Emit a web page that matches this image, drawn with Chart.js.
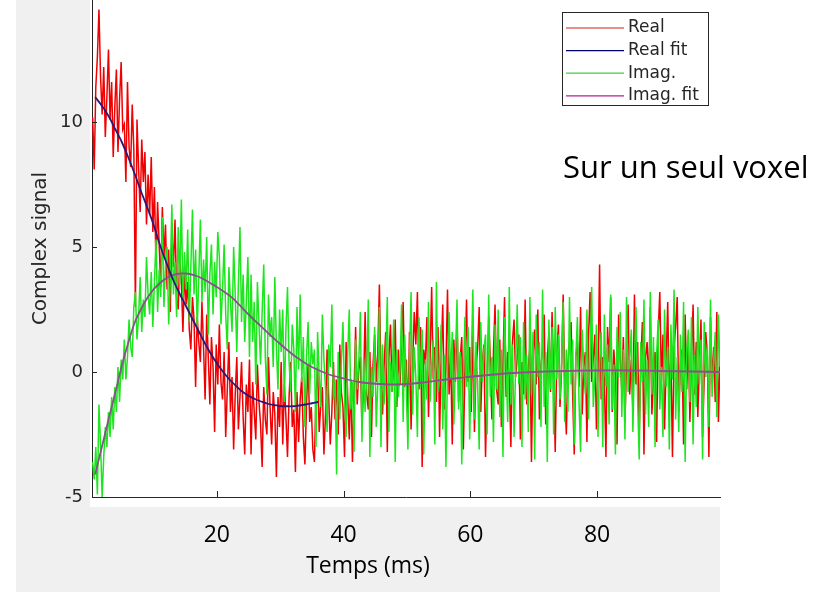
<!DOCTYPE html>
<html>
<head>
<meta charset="utf-8">
<script src="https://cdn.jsdelivr.net/npm/chart.js@4.4.1/dist/chart.umd.min.js"></script>
<style>
  html, body { margin: 0; padding: 0; background: #ffffff; }
  #wrap { width: 834px; height: 592px; position: relative; }
</style>
</head>
<body>
<div id="wrap"><canvas id="signalChart"></canvas></div>
<script>
//
// Sampling grid of the measured signal (ms)
//
var sampleStart = 0.4;
var sampleStep = 0.25;

// Real part, one value per sample (20 per line = 5 ms)
var realSignal = [
    10.2, 8.1, 11.4, 12.6, 14.5, 11.8, 10.3, 12.2, 9.4, 11.0, 12.9, 10.1, 11.6, 8.6, 10.6, 12.1, 8.8, 10.9, 12.4, 9.7,
    9.9, 7.6, 11.6, 9.0, 8.2, 10.7, 8.9, 2.6, 10.1, 8.2, 6.4, 9.3, 7.6, 8.8, 5.9, 7.9, 6.3, 8.6, 5.6, 7.4,
    4.3, 6.8, 5.1, 3.4, 6.6, 4.6, 5.9, 3.3, 4.9, 2.4, 5.6, 4.2, 6.1, 3.0, 2.5, 4.6, 3.6, 1.6, 4.1, 2.7,
    3.6, 1.7, 0.9, 3.0, 2.1, -0.6, 2.2, 1.2, 0.4, 2.8, 1.0, -1.1, 2.3, 0.6, -1.3, 1.4, 0.2, -2.4, 1.1, -0.5,
    1.9, -0.4, -1.1, 0.8, -2.6, -0.7, 1.2, -1.6, -0.2, -3.1, -0.9, 0.6, -2.3, -1.0, 0.4, -1.8, -3.3, -0.5, -1.6, 0.5,
    -3.3, -0.4, -1.6, -2.7, 0.3, -1.2, -2.1, -3.8, -0.6, -1.9, -2.5, 0.6, -1.4, -2.9, -0.8, -1.7, -4.2, -1.0, -2.2, 0.4,
    -2.9, -0.5, -1.8, -3.4, -1.0, 0.4, -2.2, -1.5, -4.0, -0.8, -2.8, -1.1, -0.2, -2.6, -3.7, -1.3, 0.3, -2.0, -1.4, -3.1,
    -3.6, -0.9, 0.2, -2.4, -1.3, -0.6, -3.3, -1.7, 0.9, -1.0, -2.9, -1.6, 0.4, -1.9, -0.3, -2.5, 1.1, -0.8, -1.4, -3.4,
    1.2, -1.0, -2.7, -0.3, -3.6, -0.9, 1.8, -1.3, 0.1, 0.6, -2.2, -0.6, 2.4, -0.9, -1.5, 0.8, -2.6, 0.3, 1.5, -0.4,
    0.8, 3.5, -0.2, -1.7, 0.3, 1.6, -3.2, 0.6, 1.9, -0.8, 0.2, 2.1, -1.4, 0.9, -0.5, 1.2, 2.8, -0.6, 0.5, -2.1,
    1.6, -2.3, 0.4, 2.4, 1.1, 3.2, -0.7, 1.8, -3.8, 0.9, 0.3, 2.2, -1.8, 0.6, 3.4, -0.3, 1.0, -1.2, 1.8, -2.6,
    0.6, 2.7, -1.5, 0.2, 3.3, -0.9, 0.7, -2.9, 1.3, -0.4, 2.2, -1.2, 0.5, 1.4, -3.1, 0.1, 2.9, -0.4, 1.0, -1.6,
    1.9, -2.4, 0.2, 0.9, 2.6, -1.6, 0.4, 1.1, -3.4, -0.5, 2.2, 0.5, -1.9, 0.8, 2.7, -0.7, -1.3, 1.3, -2.2, 0.3,
    3.0, -1.0, 0.8, -0.3, -3.0, 1.2, 2.1, -0.2, 0.6, 1.5, -2.7, 0.4, -0.9, 2.9, -1.3, 0.2, 1.0, -3.6, 0.7, 1.7,
    -0.5, 2.5, -1.9, 0.3, 0.9, 2.3, -2.1, 0.5, 1.6, -0.8, 2.4, -0.2, -3.2, 0.7, 1.9, -1.4, 0.1, 3.1, -0.6, -2.5,
    0.3, 1.2, 2.0, -0.9, -3.3, 0.6, 1.2, -0.6, 2.6, -1.7, 0.2, 0.8, -2.8, 1.4, 3.2, -0.4, 0.5, 1.5, -2.3, 0.1,
    4.3, -1.1, 0.6, -0.3, -3.4, 1.8, 0.4, 3.0, -1.6, 0.9, -0.2, -2.9, 2.3, 0.6, -0.7, 1.4, -2.0, 0.3, 2.7, -0.9,
    0.5, -1.5, 3.1, -0.5, 1.2, -2.5, 0.3, 2.0, -3.3, 0.6, 1.2, -0.6, 2.6, -1.7, -0.2, 0.8, -2.8, 1.6, 3.2, -0.4,
    1.5, -2.3, 0.4, 2.8, -1.1, 0.6, -3.4, 1.0, 1.8, 3.0, -1.6, 0.2, 0.9, -2.9, 2.3, -0.7, 1.4, -2.0, 0.5, 2.7,
    -0.9, 1.2, -1.8, 0.4, 2.1, -2.6, -0.3, 1.6, 0.7, -3.4, 2.2, -0.5, 1.0, -1.2, 2.4, -2.0, 0.6
];

// Imaginary part, same grid
var imagSignal = [
    -3.6, -4.3, -3.0, -4.9, -1.3, -2.9, -5.0, -3.4, -2.2, -3.0, -1.6, -2.6, -1.0, -2.3, -0.6, -1.6, 0.2, -1.2, 0.5, -0.3,
    1.3, -0.3, 0.6, 2.1, 1.0, 0.6, 2.6, 3.2, 1.3, 2.2, 3.8, 1.6, 2.9, 2.2, 4.6, 3.1, 2.3, 4.0, 1.8, 3.6,
    5.3, 2.4, 4.1, 3.0, 6.2, 2.6, 4.3, 5.0, 1.9, 3.7, 6.7, 3.1, 4.4, 2.2, 5.8, 3.5, 6.9, 2.8, 4.8, 3.3,
    5.7, 2.0, 4.2, 6.5, 3.1, 4.9, 1.7, 3.8, 6.1, 2.8, 4.5, 3.2, 5.4, 1.5, 3.9, 5.1, 2.3, 4.4, 3.0, 5.6,
    4.6, 1.9, 3.3, 5.1, 2.3, 0.9, 4.2, 2.8, 1.6, 5.0, 3.1, 0.8, 3.5, 5.8, 2.0, 3.9, 1.2, 2.8, 4.6, 0.6,
    3.9, 1.2, 2.8, -0.5, 3.6, 1.9, 0.3, 2.4, 4.3, 0.6, -0.9, 3.1, 1.4, 2.2, 0.2, 3.8, 1.0, -0.7, 2.5, 0.8,
    2.5, -1.2, 1.7, 3.4, 0.4, -0.8, 1.9, 0.9, -1.6, 2.6, 0.1, 3.1, -0.4, 1.4, -2.2, 0.6, 2.0, -0.9, 1.2, 0.3,
    0.9, -3.0, 1.6, -0.2, -1.4, 2.3, 0.5, -0.7, -2.4, 1.1, 0.2, 2.7, -1.1, -0.3, -4.1, 0.8, -1.9, 0.4, 2.0, -0.9,
    -2.6, 0.7, 2.5, -1.5, -0.4, -3.2, 1.3, -0.7, 0.4, 2.4, -2.8, 0.5, -1.6, -0.2, 2.9, -3.4, 0.2, -1.0, 1.8, -2.2,
    -0.5, 2.6, -3.0, 1.1, -1.3, 0.3, 3.0, -2.4, 0.4, -0.8, 2.1, -3.6, 0.9, -1.0, 0.1, 2.7, -2.0, 1.5, -0.6, -3.1,
    0.6, 3.2, -1.7, 1.0, -0.2, -2.6, 2.2, -0.6, 1.7, -3.3, 0.5, -1.1, 2.8, -1.2, 0.3, 1.3, -2.9, 3.6, -0.8, 0.4,
    1.9, -2.3, 0.7, -3.8, 0.1, 2.4, -0.3, 1.6, -2.1, 0.4, 2.9, -1.5, 0.8, -3.7, -0.2, 2.2, -0.6, 1.8, -2.7, 0.4,
    3.3, -1.9, 1.2, -0.4, -3.1, 2.0, -0.4, 0.9, 1.5, -2.5, 3.1, -1.0, 0.6, -2.8, 1.9, -0.7, 2.5, -1.8, 0.9, -3.4,
    2.2, 0.3, -2.0, 3.4, -1.3, 1.1, -2.6, 0.2, 2.7, -0.5, 1.4, -3.0, 2.0, -1.1, 0.7, -2.4, 3.0, -0.9, 1.6, -3.5,
    2.3, -0.2, 1.2, -2.2, 3.3, -1.4, 0.8, -3.6, 2.1, -0.7, 1.8, -2.5, 2.6, -0.3, 1.5, -1.1, 0.4, 2.8, -2.0, 0.9,
    -1.6, 3.0, -0.5, 1.3, -2.9, 0.6, 2.2, -1.2, -3.2, 1.7, 0.2, -0.9, 2.5, -1.9, 0.8, 3.4, -1.4, -0.2, 1.9, -2.6,
    0.4, 1.6, -3.0, 2.3, -0.6, 1.1, -2.1, 3.1, -1.5, 0.3, -3.3, 1.8, -0.2, 2.4, -1.8, 0.9, -2.7, 3.0, -0.8, 0.5,
    1.7, -2.4, 0.6, 2.6, -1.1, -3.5, 1.2, -0.4, 2.9, -1.7, 0.5, -2.2, 3.2, -0.9, 1.4, -3.0, 0.7, 2.1, -1.5, 0.2,
    -2.6, 2.5, -0.6, 1.0, -3.1, 1.9, -0.3, 3.3, -1.9, 0.6, -2.4, 1.5, -0.8, 2.8, -3.6, 0.9, 1.7, -1.2, 2.2, -2.9,
    0.7, -1.4, 2.6, -0.5, 1.3, -3.5, 2.0, -0.2, 1.1, -2.2, 2.9, -1.0, 0.4, 1.6, -1.8, 2.3, 0.2
];

// Fitted curves
var realFitTimes = [0.8, 2, 3, 4, 5, 6, 7, 8, 9, 10, 11, 12, 13, 14, 15, 16, 17, 18,
    19, 20, 21, 22, 23, 24, 25, 26, 27, 28, 29, 30, 31, 32, 33, 34, 35, 36];
var realFit = [11.0, 10.6, 10.2, 9.7, 9.2, 8.6, 7.95, 7.25, 6.6, 5.9, 5.1, 4.4, 3.75, 3.2,
    2.7, 2.2, 1.7, 1.2, 0.75, 0.35, 0.0, -0.3, -0.55, -0.78, -0.95, -1.08, -1.18, -1.27,
    -1.32, -1.36, -1.37, -1.37, -1.34, -1.3, -1.25, -1.2];

var imagFitTimes = [0.8, 2, 3, 4, 5, 6, 7, 8, 9, 10, 11, 12, 13, 14, 15, 16, 17, 18, 19, 20,
    22.5, 25, 27.5, 30, 32.5, 35, 37.5, 40, 42.5, 45, 47.5, 50, 52.5, 55, 57.5, 60, 62.5,
    65, 67.5, 70, 75, 80, 85, 90, 95, 99.4];
var imagFit = [-4.1, -2.85, -1.8, -0.8, 0.25, 1.15, 1.95, 2.5, 2.95, 3.3, 3.55, 3.75, 3.87,
    3.93, 3.94, 3.9, 3.82, 3.7, 3.55, 3.4, 2.95, 2.3, 1.7, 1.12, 0.6, 0.2, -0.08, -0.26,
    -0.4, -0.47, -0.5, -0.48, -0.42, -0.34, -0.26, -0.19, -0.13, -0.07, -0.03, 0.0, 0.04,
    0.06, 0.06, 0.04, 0.02, 0.0];

var xTicks = [20, 40, 60, 80];
var yTicks = [-5, 0, 5, 10];

var sampleTimes = [];
for (var i = 0; i < realSignal.length; i++) {
    sampleTimes.push(+(sampleStart + sampleStep * i).toFixed(2));
}

function pairs(xs, ys) {
    return ys.map(function (v, i) { return {x: xs[i], y: v}; });
}

var axisColor = '#262626';
var matlabFont = '"DejaVu Sans", sans-serif';
var slideFont = '"Open Sans", sans-serif';

//
// Figure decorations: grey figure frame, inward ticks, boxed legend, slide texts
//
var figurePlugin = {
    id: 'figure',
    beforeDraw: function (chart) {
        var ctx = chart.ctx, a = chart.chartArea;
        ctx.save();
        ctx.fillStyle = '#ffffff';
        ctx.fillRect(0, 0, chart.width, chart.height);
        ctx.fillStyle = '#f0f0f0';
        ctx.fillRect(16, 0, a.right - 16, chart.height);
        ctx.fillStyle = '#ffffff';
        ctx.fillRect(a.left - 2, 0, a.right - a.left + 2, a.bottom + 10);
        ctx.restore();
    },
    afterDraw: function (chart) {
        var ctx = chart.ctx, a = chart.chartArea;
        var xs = chart.scales.x, ys = chart.scales.y;
        ctx.save();

        // inward tick marks
        ctx.strokeStyle = axisColor;
        ctx.lineWidth = 1;
        ctx.beginPath();
        xTicks.forEach(function (v) {
            var px = Math.round(xs.getPixelForValue(v)) + 0.5;
            ctx.moveTo(px, a.bottom);
            ctx.lineTo(px, a.bottom - 6);
        });
        yTicks.forEach(function (v) {
            var py = Math.round(ys.getPixelForValue(v)) + 0.5;
            ctx.moveTo(a.left, py);
            ctx.lineTo(a.left + 5, py);
        });
        ctx.stroke();

        // legend box, top right inside the axes
        var bw = 146, bh = 93;
        var bx = a.right - 12 - bw, by = a.top + 12;
        ctx.fillStyle = '#ffffff';
        ctx.fillRect(bx, by, bw, bh);
        ctx.strokeStyle = axisColor;
        ctx.strokeRect(bx + 0.5, by + 0.5, bw, bh);
        ctx.font = '17px ' + matlabFont;
        ctx.textBaseline = 'middle';
        ctx.textAlign = 'left';
        chart.data.datasets.forEach(function (ds, k) {
            var ry = by + 16 + k * 22.6;
            ctx.strokeStyle = ds.legendColor;
            ctx.lineWidth = 1.2;
            ctx.beginPath();
            ctx.moveTo(bx + 4, ry);
            ctx.lineTo(bx + 62, ry);
            ctx.stroke();
            ctx.fillStyle = axisColor;
            ctx.fillText(ds.label, bx + 66, ry);
        });

        // x axis title, as placed on the slide
        ctx.fillStyle = '#000000';
        ctx.font = '23px ' + slideFont;
        ctx.textAlign = 'center';
        ctx.textBaseline = 'middle';
        ctx.fillText('Temps (ms)', 368, 566);

        // slide annotation
        ctx.font = '31px ' + slideFont;
        ctx.textAlign = 'left';
        ctx.textBaseline = 'alphabetic';
        ctx.fillText('Sur un seul voxel', 563, 178);
        ctx.restore();
    }
};

var config = {
    type: 'line',
    data: {
        datasets: [{
            label: 'Real',
            data: pairs(sampleTimes, realSignal),
            borderColor: '#f00000',
            legendColor: '#d02020',
            borderWidth: 1.5,
            order: 3
        }, {
            label: 'Real fit',
            data: pairs(realFitTimes, realFit),
            borderColor: '#2a1878',
            legendColor: '#00006e',
            borderWidth: 1.8,
            tension: 0.3,
            order: 0
        }, {
            label: 'Imag.',
            data: pairs(sampleTimes, imagSignal),
            borderColor: '#1ee61e',
            legendColor: '#40d040',
            borderWidth: 1.5,
            order: 2
        }, {
            label: 'Imag. fit',
            data: pairs(imagFitTimes, imagFit),
            borderColor: '#8a4f8c',
            legendColor: '#b0209a',
            borderWidth: 1.8,
            tension: 0.3,
            order: 1
        }]
    },
    options: {
        responsive: true,
        maintainAspectRatio: false,
        animation: false,
        events: [],
        elements: {
            point: { radius: 0 },
            line: { tension: 0, fill: false }
        },
        layout: {
            padding: { left: 0, top: 0, right: 114, bottom: 0 }
        },
        plugins: {
            legend: { display: false },
            tooltip: { enabled: false }
        },
        scales: {
            x: {
                type: 'linear',
                min: 0.3,
                max: 99.4,
                grid: { display: false, drawTicks: false },
                border: { display: true, color: axisColor, width: 1 },
                ticks: {
                    color: '#000000',
                    font: { family: slideFont, size: 23 },
                    padding: 25,
                    maxRotation: 0
                },
                afterBuildTicks: function (s) {
                    s.ticks = xTicks.map(function (v) { return {value: v}; });
                },
                afterFit: function (s) {
                    s.height = 95;
                    s.paddingLeft = 0;
                    s.paddingRight = 0;
                }
            },
            y: {
                type: 'linear',
                min: -5,
                max: 14.88,
                grid: { display: false, drawTicks: false },
                border: { display: true, color: axisColor, width: 1 },
                ticks: {
                    color: axisColor,
                    font: { family: matlabFont, size: 18 },
                    padding: 9
                },
                title: {
                    display: true,
                    text: 'Complex signal',
                    color: axisColor,
                    font: { family: matlabFont, size: 20 },
                    padding: { top: 29, bottom: 0 }
                },
                afterBuildTicks: function (s) {
                    s.ticks = yTicks.map(function (v) { return {value: v}; });
                },
                afterFit: function (s) {
                    s.width = 92;
                    s.paddingTop = 0;
                    s.paddingBottom = 0;
                }
            }
        }
    },
    plugins: [figurePlugin]
};

var ctx = document.getElementById('signalChart').getContext('2d');
window.signalChart = new Chart(ctx, config);
</script>
</body>
</html>
